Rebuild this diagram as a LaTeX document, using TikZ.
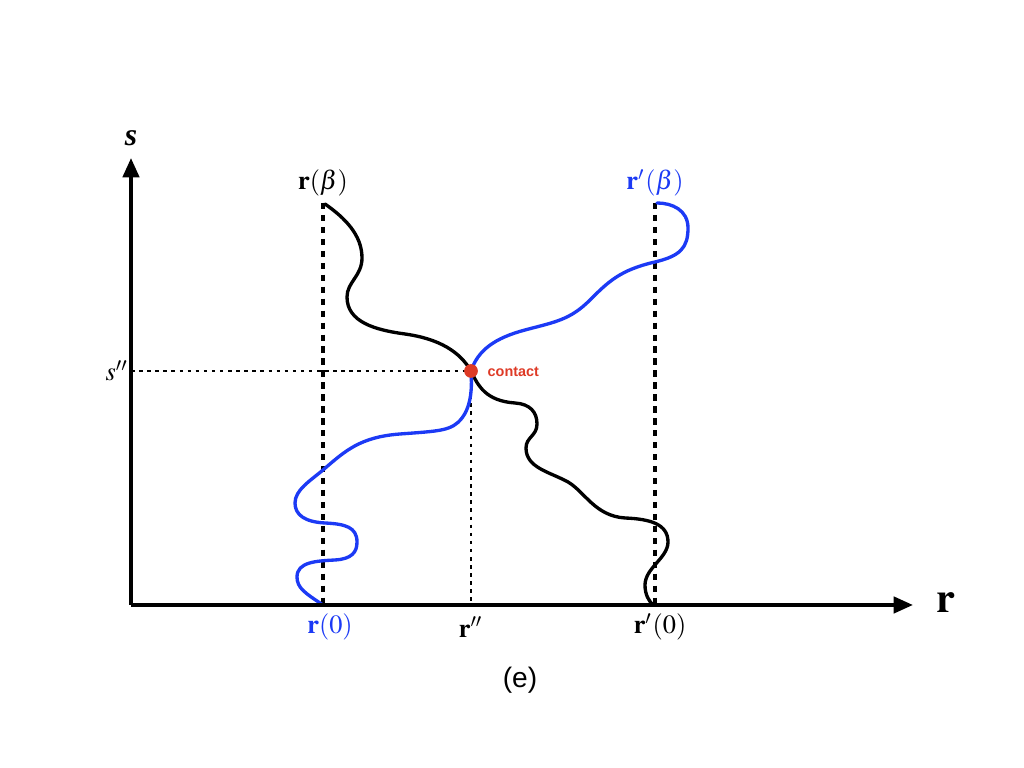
\documentclass[tikz,border=0pt]{standalone}
\usepackage{mathptmx}
\usepackage{fontspec}
\setmainfont{Liberation Serif}
\newfontfamily\helv{Liberation Sans}
\usepackage{tikz}
\usetikzlibrary{arrows.meta}
\definecolor{rblue}{RGB}{28,58,245}
\definecolor{cred}{RGB}{222,58,38}

\begin{document}
\begin{tikzpicture}[x=0.01cm,y=-0.01cm,
  axis/.style={line width=1.1pt,-{Triangle[length=5.5pt,width=4.6pt]}},
  guide/.style={line width=0.9pt,dash pattern=on 1.8pt off 1.6pt},
  thinguide/.style={line width=0.55pt,dash pattern=on 1pt off 1.3pt},
  walk/.style={line width=0.95pt,line cap=round},
  dot/.style={circle,fill=cred,inner sep=0pt,minimum size=3.9pt},
  lbl/.style={font=\fontsize{7.5}{9}\selectfont}]
\useasboundingbox (0,0) rectangle (1024,768);

\coordinate (o) at (131,605);
\coordinate (xend) at (913,605);
\coordinate (yend) at (131,158);
\coordinate (rb) at (323,203);
\coordinate (r0) at (323,605);
\coordinate (rpb) at (655,203);
\coordinate (rp0) at (655,605);
\coordinate (c) at (471,371);

\draw[guide] (rb) -- (r0);
\draw[guide] (rpb) -- (rp0);
\draw[thinguide] (o |- c) -- (c);
\draw[thinguide] (c) -- (c |- o);

% black chain, r(beta) to r'(0)
\draw[walk] (325,204) .. controls (345,218) and (362,235) .. (362,258)
  .. controls (362,276) and (347,282) .. (347,297)
  .. controls (347,322) and (375,330) .. (405,334)
  .. controls (440,339) and (460,352) .. (c)
  .. controls (478,386) and (486,401) .. (515,403)
  .. controls (530,404) and (537,412) .. (537,424)
  .. controls (537,436) and (526,437) .. (526,448)
  .. controls (526,468) and (550,472) .. (568,482)
  .. controls (585,492) and (595,516) .. (625,518)
  .. controls (650,519) and (668,524) .. (668,542)
  .. controls (668,558) and (645,568) .. (645,585)
  .. controls (645,595) and (649,601) .. (653,605);
% blue chain, r(0) to r'(beta)
\draw[walk,rblue] (323,605) .. controls (305,593) and (297,588) .. (297,577)
  .. controls (297,562) and (316,561) .. (335,560)
  .. controls (352,559) and (357,552) .. (357,542)
  .. controls (357,527) and (345,524) .. (325,523)
  .. controls (305,522) and (295,515) .. (295,503)
  .. controls (295,490) and (310,481) .. (323,470)
  .. controls (345,451) and (360,437) .. (400,434)
  .. controls (440,431) and (452,431) .. (462,418)
  .. controls (472,405) and (472,385) .. (c)
  .. controls (478,350) and (495,338) .. (525,330)
  .. controls (555,322) and (570,320) .. (590,300)
  .. controls (608,282) and (620,270) .. (655,262)
  .. controls (680,256) and (688,248) .. (688,228)
  .. controls (688,210) and (672,203) .. (657,203);

\draw[axis] (o) -- (xend);
\draw[axis] (o) -- (yend);
\node[dot] (cdot) at (c) {};

\node[font=\fontsize{12}{14}\selectfont] (rlab) at (946,603) {$\mathbf{r}$};
\node[font=\bfseries\itshape\fontsize{9}{10}\selectfont] (slab) at (131,138) {s};
\node[lbl] (sc) at (117,371) {$s''$};
\node[lbl] (rblab) at (323,183) {$\mathbf{r}(\beta)$};
\node[lbl,text=rblue] (rpblab) at (655,183) {$\mathbf{r}'(\beta)$};
\node[lbl,text=rblue] (r0lab) at (330,627) {$\mathbf{r}(0)$};
\node[lbl] (rclab) at (471,627) {$\mathbf{r}''$};
\node[lbl] (rp0lab) at (660,627) {$\mathbf{r}'(0)$};
\node[font=\helv\bfseries\fontsize{4.1}{5}\selectfont,text=cred,anchor=west,inner sep=0pt] (clab) at (487,372) {contact};
\node[font=\helv\fontsize{8}{10}\selectfont] (cap) at (520,680) {(e)};
\end{tikzpicture}
\end{document}
